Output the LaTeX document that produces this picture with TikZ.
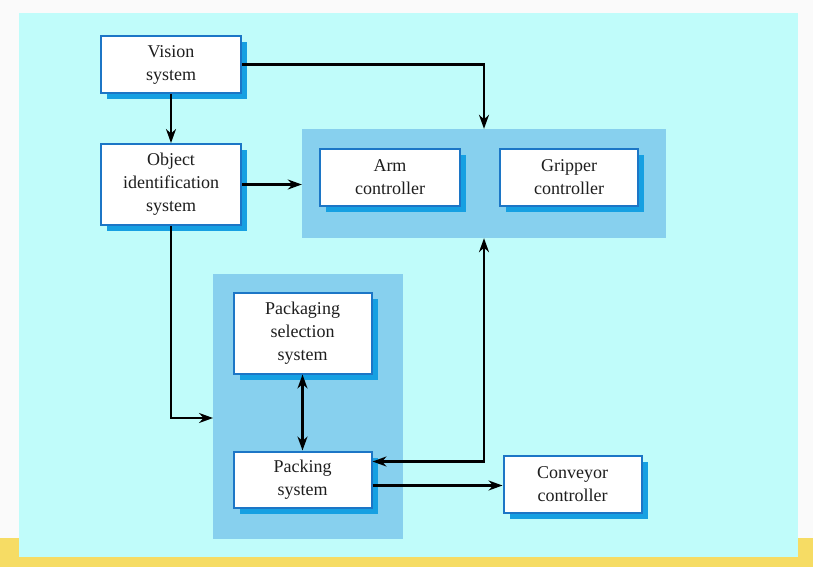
\documentclass[tikz,border=0pt]{standalone}
\usepackage{fontspec}
\setmainfont{Liberation Serif}
\usetikzlibrary{arrows.meta,positioning,shadows}
\definecolor{panelcyan}{RGB}{192,252,250}
\definecolor{groupblue}{RGB}{135,208,238}
\definecolor{boxblue}{RGB}{28,118,198}
\definecolor{shadowblue}{RGB}{22,160,226}
\definecolor{slidebar}{RGB}{246,220,100}
\definecolor{slidebg}{RGB}{250,250,250}
\definecolor{inkgray}{RGB}{30,30,30}

\begin{document}
\begin{tikzpicture}[x=1pt, y=-1pt, align=center]
    \tikzset{
        n/.style        =   { rectangle
                            , text centered
                            , draw=boxblue
                            , line width=2pt
                            , fill=white
                            , text=inkgray
                            , inner sep=2pt
                            , minimum width=138pt
                            , minimum height=57pt
                            , font=\fontsize{18}{23}\selectfont
                            , drop shadow={shadow xshift=6pt, shadow yshift=-6pt, fill=shadowblue, opacity=1}
        }
        , tall/.style   =   { minimum height=81pt
        }
        , grp/.style    =   { rectangle
                            , fill=groupblue
                            , inner sep=0pt
        }
        , arrow/.style  =   { line width=2.2pt
                            , -{Stealth[length=14pt, width=10pt]}
        }
        , both/.style   =   { line width=2.2pt
                            , {Stealth[length=14pt, width=10pt]}-{Stealth[length=14pt, width=10pt]}
        }
    }
    % slide background
    \fill[slidebg]   (0,0)   rectangle (813,567);
    \fill[slidebar]  (0,538) rectangle (813,567);
    \fill[panelcyan] (19,13) rectangle (798,557);

    \node(g1)[grp, minimum width=364pt, minimum height=109pt] at (484,183.5) {};
    \node(g2)[grp, minimum width=190pt, minimum height=265pt] at (308,406.5) {};

    \node(1)[n, minimum width=140pt] at (171,64.5) {Vision\\system};
    \node(2)[n, tall, minimum width=140pt, below=49pt of 1] {Object\\identification\\system};
    \node(3)[n, minimum width=140pt] at (390,177) {Arm\\controller};
    \node(4)[n, right=38pt of 3] {Gripper\\controller};
    \node(5)[n, tall] at (302.5,333) {Packaging\\selection\\system};
    \node(6)[n, minimum height=56pt, below=76pt of 5] {Packing\\system};
    \node(7)[n] at (572.5,484.5) {Conveyor\\controller};
    \coordinate(c1) at (213,418);

    \draw[arrow] (1) -- (2);
    \draw[arrow] (1.east) -| (g1.north);
    \draw[arrow] (2.east) -- (2.east -| g1.west);
    \draw[arrow] (2.south) |- (c1);
    \draw[both]  (5) -- (6);
    \draw[both]  (g1.south) |- ([yshift=18pt]6.east);
    \draw[arrow] ([yshift=-6pt]6.east) -- ([yshift=-6pt]6.east -| 7.west);
\end{tikzpicture}
\end{document}
